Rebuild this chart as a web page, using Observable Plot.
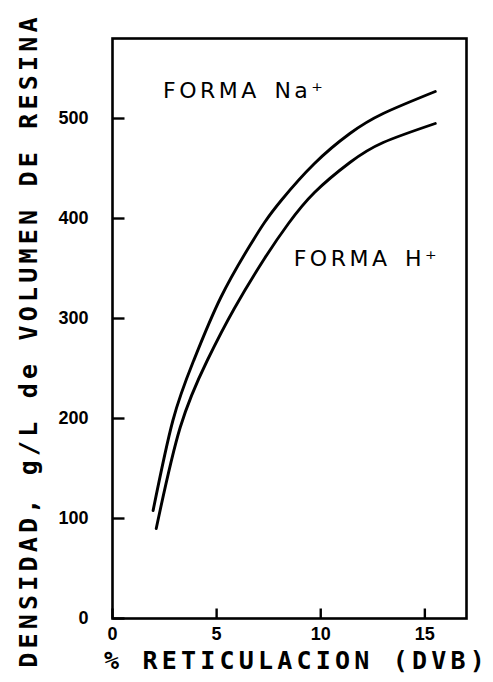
<!DOCTYPE html>
<html><head><meta charset="utf-8">
<script src="https://cdn.jsdelivr.net/npm/d3@7"></script>
<script src="https://cdn.jsdelivr.net/npm/@observablehq/plot@0.6"></script>
<style>body{margin:0;background:#fff}</style>
</head><body><div id="chart"></div>
<script>
const naX = [1.95, 2.9, 3.9, 5.2, 6.6, 7.3, 8.1, 9.7, 11.4, 13.0, 15.5];
const naY = [108, 198, 258, 321, 373, 396, 418, 455, 485, 505, 527];
const hX = [2.1, 3.25, 4.55, 5.85, 7.3, 8.45, 9.7, 11.4, 13.0, 15.5];
const hY = [90, 191, 258, 310, 360, 395, 426, 456, 476, 495];
const xTicks = [0, 5, 10, 15];
const yTicks = [0, 100, 200, 300, 400, 500];
const seriesNames = ["FORMA\u2002Na\u207A", "FORMA\u2002H\u207A"];
const xTitle = "% RETICULACION (DVB)";
const yTitle = "DENSIDAD, g/L de VOLUMEN DE RESINA";

const naData = naX.map((x, i) => ({x, y: naY[i]}));
const hData = hX.map((x, i) => ({x, y: hY[i]}));
const yTickData = yTicks.map(v => ({v}));
const xTickData = xTicks.map(v => ({v}));

const W = 493, H = 682, mL = 112, mR = 27, mT = 38, mB = 64;
const plotW = W - mL - mR, plotH = H - mT - mB;
const xDom = [0, 17], yDom = [0, 580];
// inward tick lengths (12px and 10px) converted to scale units
const yTickLen = 12 * (xDom[1] - xDom[0]) / plotW;
const xTickLen = 10 * (yDom[1] - yDom[0]) / plotH;

const labelFont = {fontFamily: "'DejaVu Sans', sans-serif", fontWeight: "normal", fontSize: 22, textAnchor: "start", fill: "#000"};
const titleFont = {fontFamily: "'DejaVu Sans Mono', monospace", fontWeight: "bold", fontSize: 25, fill: "#000", textAnchor: "middle"};

const chart = Plot.plot({
  width: W, height: H,
  marginLeft: mL, marginRight: mR, marginTop: mT, marginBottom: mB,
  style: {fontFamily: "'Liberation Sans', Arial, sans-serif", fontSize: "18px", fontWeight: "bold", color: "#000", background: "#fff", overflow: "visible"},
  x: {domain: xDom, ticks: xTicks, tickSize: 0, tickPadding: 9, label: null},
  y: {domain: yDom, ticks: yTicks, tickSize: 0, tickPadding: 24, label: null},
  marks: [
    Plot.frame({stroke: "#000", strokeWidth: 2.6}),
    Plot.link(yTickData, {x1: () => xDom[0], x2: () => xDom[0] + yTickLen, y1: "v", y2: "v", stroke: "#000", strokeWidth: 2.4}),
    Plot.link(xTickData, {x1: "v", x2: "v", y1: () => yDom[0], y2: () => yDom[0] + xTickLen, stroke: "#000", strokeWidth: 2.4}),
    Plot.line(naData, {x: "x", y: "y", curve: "natural", stroke: "#000", strokeWidth: 2.9}),
    Plot.line(hData, {x: "x", y: "y", curve: "natural", stroke: "#000", strokeWidth: 2.9}),
    Plot.text([seriesNames[0]], {x: () => 2.43, y: () => 528, ...labelFont}),
    Plot.text([seriesNames[1]], {x: () => 8.7, y: () => 360, ...labelFont}),
    Plot.text([yTitle], {frameAnchor: "left", rotate: -90, dx: -84, dy: 12, ...titleFont}),
    Plot.text([xTitle], {frameAnchor: "bottom", dx: 7, dy: 50, ...titleFont})
  ]
});
d3.select(chart).selectAll("text")
  .filter(function() { return this.textContent === xTitle || this.textContent === yTitle; })
  .attr("letter-spacing", 4.2);
d3.select(chart).selectAll("text")
  .filter(function() { return seriesNames.includes(this.textContent); })
  .attr("letter-spacing", 3.5);
document.getElementById("chart").appendChild(chart);
</script>
</body></html>
